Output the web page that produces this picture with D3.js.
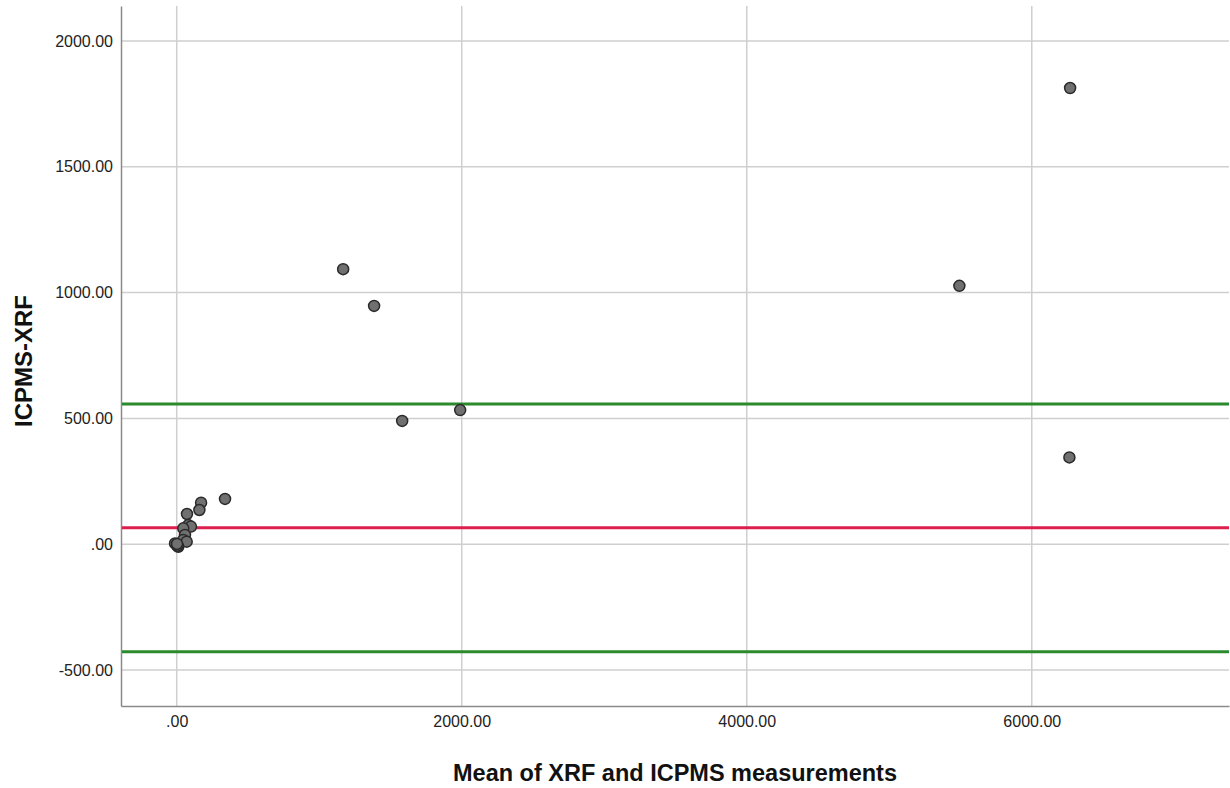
<!DOCTYPE html>
<html>
<head>
<meta charset="utf-8">
<script src="https://cdn.jsdelivr.net/npm/d3@7"></script>
<style>
  html, body { margin: 0; padding: 0; background: #fff; }
  svg { display: block; }
  text { font-family: "Liberation Sans", Arial, sans-serif; }
</style>
</head>
<body>
<svg id="chart" width="1230" height="788"></svg>
<script>
// Data: mean of XRF and ICPMS (x), difference ICPMS-XRF (y)
const meanValues = [6269, 6264, 5492, 1168, 1385, 1582, 1989, 339, 171, 159, 72, 81, 100, 46, 58, 46, 70, 0, 11, -12, 5, 2];
const diffValues = [1813, 345, 1027, 1093, 947, 490, 533, 180, 165, 136, 120, 76, 70, 63, 37, 17, 10, -3, -10, 3, -6, 1];
const xTicks = [0, 2000, 4000, 6000];
const yTicks = [-500, 0, 500, 1000, 1500, 2000];
const meanDiff = 65;
const upperLoA = 557;
const lowerLoA = -427;

(function () {
const svg = d3.select("#chart");
const pLeft = 121, pRight = 1229, pTop = 6, pBottom = 706;

const x = d3.scaleLinear().domain([-391, 7384]).range([pLeft, pRight]);
const y = d3.scaleLinear().domain([-643, 2139]).range([pBottom, pTop]);

const fmt = d => d === 0 ? ".00" : d.toFixed(2);

// gridlines
svg.append("g").selectAll("line").data(yTicks).join("line")
  .attr("x1", pLeft).attr("x2", pRight)
  .attr("y1", d => y(d)).attr("y2", d => y(d))
  .attr("stroke", "#cfcfcf").attr("stroke-width", 1.5);
svg.append("g").selectAll("line").data(xTicks).join("line")
  .attr("y1", pTop).attr("y2", pBottom)
  .attr("x1", d => x(d)).attr("x2", d => x(d))
  .attr("stroke", "#cfcfcf").attr("stroke-width", 1.5);

// axes
const yAxis = d3.axisLeft(y).tickValues(yTicks).tickFormat(fmt).tickSize(0).tickPadding(8);
const gy = svg.append("g").attr("transform", `translate(${pLeft},0)`).call(yAxis);
gy.select(".domain").attr("stroke", "#8a8a8a").attr("stroke-width", 1.5);
gy.selectAll("text").attr("font-size", 16).attr("fill", "#222");

const xAxis = d3.axisBottom(x).tickValues(xTicks).tickFormat(fmt).tickSize(0).tickPadding(10);
const gx = svg.append("g").attr("transform", `translate(0,${pBottom})`).call(xAxis);
gx.select(".domain").attr("stroke", "#8a8a8a").attr("stroke-width", 1.5);
gx.selectAll("text").attr("font-size", 16).attr("fill", "#222");

// reference lines
const refs = [
  {v: upperLoA, c: "#2b8a2b"},
  {v: meanDiff, c: "#dc1f4c"},
  {v: lowerLoA, c: "#2b8a2b"}
];
svg.append("g").selectAll("line").data(refs).join("line")
  .attr("x1", pLeft + 1).attr("x2", pRight)
  .attr("y1", d => y(d.v)).attr("y2", d => y(d.v))
  .attr("stroke", d => d.c).attr("stroke-width", 3);

// points
const pts = meanValues.map((m, i) => ({m, d: diffValues[i]}));
svg.append("g").selectAll("circle").data(pts).join("circle")
  .attr("cx", d => x(d.m)).attr("cy", d => y(d.d)).attr("r", 5.5)
  .attr("fill", "#707070").attr("stroke", "#2a2a2a").attr("stroke-width", 1.5);

// titles
svg.append("text").attr("x", 675).attr("y", 781).attr("text-anchor", "middle")
  .attr("font-size", 23.5).attr("font-weight", "bold").attr("fill", "#111")
  .text("Mean of XRF and ICPMS measurements");
svg.append("text").attr("transform", "translate(32,361) rotate(-90)").attr("text-anchor", "middle")
  .attr("font-size", 24).attr("font-weight", "bold").attr("fill", "#111")
  .text("ICPMS-XRF");
})();
</script>
</body>
</html>
